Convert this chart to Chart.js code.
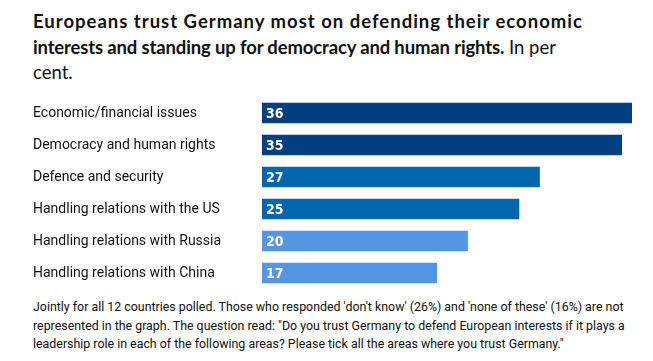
<!DOCTYPE html>
<html>
<head>
<meta charset="utf-8">
<script src="https://cdn.jsdelivr.net/npm/chart.js"></script>
<style>
  body { margin: 0; width: 653px; height: 361px; background: #fff; position: relative; overflow: hidden; font-family: "Lato", "DejaVu Sans", sans-serif; color: #111; }
  .title { position: absolute; left: 33px; top: 9px; font-size: 18.5px; line-height: 25.5px; white-space: nowrap; }
  .title b { font-weight: 700; }
  .title .l1 { letter-spacing: 1.0px; }
  .title .l2 { letter-spacing: -0.15px; }
  #trustChart { position: absolute; left: 0; top: 90px; }
  .note { position: absolute; left: 33px; top: 298px; font-family: "Roboto", sans-serif; font-size: 12.4px; line-height: 18.5px; color: #111; white-space: nowrap; letter-spacing: 0; }
</style>
</head>
<body>
<div class="title"><b class="l1">Europeans trust Germany most on defending their economic</b><br><b class="l2">interests and standing up for democracy and human rights.</b> In per<br>cent.</div>
<canvas id="trustChart" width="653" height="200"></canvas>
<div class="note">Jointly for all 12 countries polled. Those who responded 'don't know' (26%) and 'none of these' (16%) are not<br>represented in the graph. The question read: "Do you trust Germany to defend European interests if it plays a<br>leadership role in each of the following areas? Please tick all the areas where you trust Germany."</div>

<script>
  const categories = [
    "Economic/financial issues",
    "Democracy and human rights",
    "Defence and security",
    "Handling relations with the US",
    "Handling relations with Russia",
    "Handling relations with China"
  ];
  const shares = [36, 35, 27, 25, 20, 17];
  const barColors = ["#023f80", "#023f80", "#0067ae", "#0067ae", "#5596e2", "#5596e2"];

  const valueLabels = {
    id: "valueLabels",
    afterDatasetsDraw(chart) {
      const ctx = chart.ctx;
      const meta = chart.getDatasetMeta(0);
      ctx.save();
      ctx.fillStyle = "#fff";
      ctx.font = "bold 14px 'DejaVu Sans Condensed', sans-serif";
      ctx.textBaseline = "middle";
      ctx.textAlign = "left";
      meta.data.forEach((bar, i) => {
        ctx.fillText(shares[i], bar.base + 4, bar.y + 1);
      });
      ctx.restore();
    }
  };

  new Chart(document.getElementById("trustChart"), {
    type: "bar",
    data: {
      labels: categories,
      datasets: [{
        data: shares,
        backgroundColor: barColors,
        barThickness: 20
      }]
    },
    options: {
      indexAxis: "y",
      responsive: false,
      animation: false,
      layout: { padding: { left: 33, right: 21, top: 7, bottom: 1 } },
      plugins: { legend: { display: false }, tooltip: { enabled: false } },
      scales: {
        x: { display: false, min: 0, max: 36 },
        y: {
          grid: { display: false },
          border: { display: false },
          afterFit(axis) {
            axis.width = 229;
            axis.paddingTop = 0;
            axis.paddingBottom = 0;
          },
          ticks: {
            crossAlign: "far",
            color: "#111",
            font: { family: "Roboto, sans-serif", size: 14 }
          }
        }
      }
    },
    plugins: [valueLabels]
  });
</script>
</body>
</html>
